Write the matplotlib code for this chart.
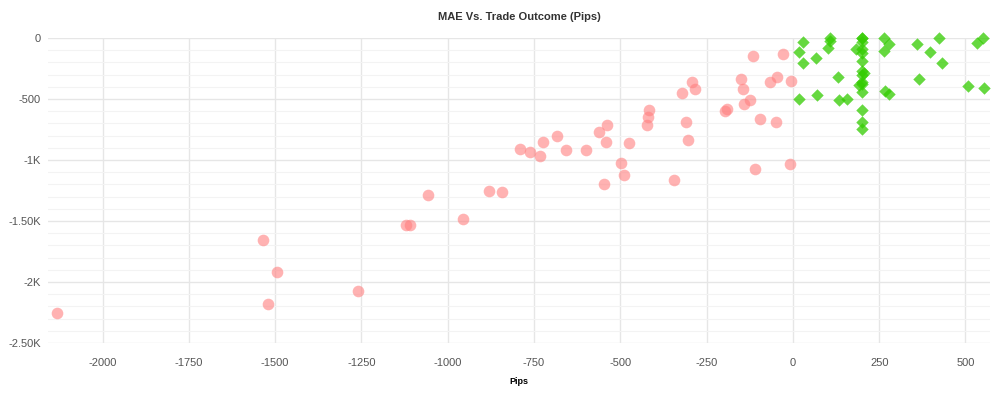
import matplotlib
matplotlib.use("Agg")
import matplotlib.pyplot as plt
from matplotlib.ticker import MultipleLocator, FixedLocator

# losing trades: (pips, MAE)
loss_pips = [-2132, -1535, -1495, -1521, -1260, -1121, -1110, -1057, -956, -881,
             -843, -791, -762, -733, -724, -684, -658, -600, -562, -539,
             -542, -548, -498, -490, -475, -422, -419, -416, -344, -321,
             -292, -285, -310, -303, -197, -192, -150, -145, -125, -141,
             -115, -96, -109, -67, -45, -49, -28, -6, -9]
loss_mae = [-2254, -1656, -1918, -2180, -2074, -1533, -1533, -1287, -1484, -1256,
            -1264, -910, -935, -967, -855, -802, -916, -918, -770, -713,
            -852, -1197, -1025, -1123, -861, -713, -648, -588, -1161, -448,
            -363, -421, -689, -836, -596, -582, -333, -421, -511, -538,
            -145, -666, -1071, -358, -322, -686, -134, -355, -1033]

# winning trades
win_pips = [30, 18, 30, 68, 107, 107, 102, 132, 18, 71,
            133, 157, 200, 200, 200, 200, 200, 200, 200, 200,
            200, 200, 200, 200, 200, 200, 184, 207, 192, 265,
            279, 265, 266, 277, 359, 424, 397, 433, 366, 508,
            555, 550, 534]
win_mae = [-33, -117, -205, -161, 0, -22, -79, -320, -500, -464,
           -508, -503, 0, -3, -30, -93, -125, -186, -268, -303,
           -358, -380, -440, -590, -686, -746, -93, -290, -385, 0,
           -52, -107, -432, -459, -52, 0, -117, -208, -339, -391,
           -413, 0, -44]

x_ticks = [-2000, -1750, -1500, -1250, -1000, -750, -500, -250, 0, 250, 500]
y_ticks = [0, -500, -1000, -1500, -2000, -2500]
y_labels = ["0", "-500", "-1K", "-1.50K", "-2K", "-2.50K"]

plt.rcParams['font.family'] = ['Liberation Sans', 'DejaVu Sans']
plt.rcParams['axes.unicode_minus'] = False

fig = plt.figure(figsize=(10, 3.94), dpi=100)
ax = fig.add_axes([0.048, 0.1294, 0.942, 0.7742])

ax.scatter(loss_pips, loss_mae, s=70, marker='o', color='#ff7f7f', alpha=0.6,
           linewidths=0, zorder=3, clip_on=False)
ax.scatter(win_pips, win_mae, s=40, marker='D', color='#33cc00', alpha=0.75,
           linewidths=0, zorder=3, clip_on=False)

ax.set_xlim(-2158, 571)
ax.set_ylim(-2500, 0)
ax.xaxis.set_major_locator(FixedLocator(x_ticks))
ax.yaxis.set_major_locator(FixedLocator(y_ticks))
ax.set_yticklabels(y_labels)
ax.yaxis.set_minor_locator(MultipleLocator(100))

ax.grid(True, which='major', axis='both', color='#e6e6e6', linewidth=1)
ax.grid(True, which='minor', axis='y', color='#f3f3f3', linewidth=0.8)
ax.set_axisbelow(True)
for s in ax.spines.values():
    s.set_visible(False)

ax.tick_params(which='both', length=0, labelsize=8, labelcolor='#555555')
ax.tick_params(axis='x', pad=11)
ax.tick_params(axis='y', pad=5)

ax.set_xlabel("Pips", fontsize=6.5, fontweight='bold', color='black', labelpad=6)
ax.set_title("MAE Vs. Trade Outcome (Pips)", fontsize=8, fontweight='bold',
             color='#333333', pad=13)

fig.savefig("out.png", dpi=100)
